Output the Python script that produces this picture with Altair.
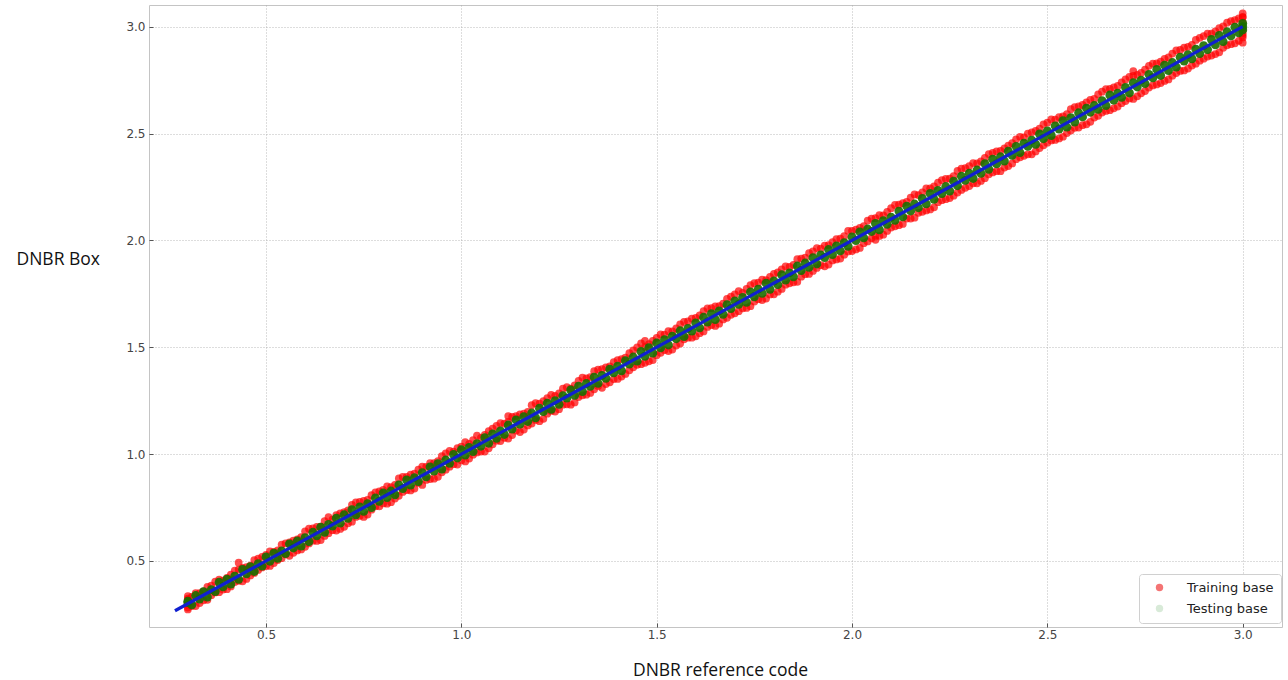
import altair as alt
import pandas as pd

# x positions of the scatter samples (DNBR reference code)
ref_x = [
    0.30, 0.31, 0.32, 0.33, 0.34, 0.35, 0.36, 0.37, 0.38, 0.39,
    0.40, 0.41, 0.42, 0.43, 0.44, 0.45, 0.46, 0.47, 0.48, 0.49,
    0.50, 0.51, 0.52, 0.53, 0.54, 0.55, 0.56, 0.57, 0.58, 0.59,
    0.60, 0.61, 0.62, 0.63, 0.64, 0.65, 0.66, 0.67, 0.68, 0.69,
    0.70, 0.71, 0.72, 0.73, 0.74, 0.75, 0.76, 0.77, 0.78, 0.79,
    0.80, 0.81, 0.82, 0.83, 0.84, 0.85, 0.86, 0.87, 0.88, 0.89,
    0.90, 0.91, 0.92, 0.93, 0.94, 0.95, 0.96, 0.97, 0.98, 0.99,
    1.00, 1.01, 1.02, 1.03, 1.04, 1.05, 1.06, 1.07, 1.08, 1.09,
    1.10, 1.11, 1.12, 1.13, 1.14, 1.15, 1.16, 1.17, 1.18, 1.19,
    1.20, 1.21, 1.22, 1.23, 1.24, 1.25, 1.26, 1.27, 1.28, 1.29,
    1.30, 1.31, 1.32, 1.33, 1.34, 1.35, 1.36, 1.37, 1.38, 1.39,
    1.40, 1.41, 1.42, 1.43, 1.44, 1.45, 1.46, 1.47, 1.48, 1.49,
    1.50, 1.51, 1.52, 1.53, 1.54, 1.55, 1.56, 1.57, 1.58, 1.59,
    1.60, 1.61, 1.62, 1.63, 1.64, 1.65, 1.66, 1.67, 1.68, 1.69,
    1.70, 1.71, 1.72, 1.73, 1.74, 1.75, 1.76, 1.77, 1.78, 1.79,
    1.80, 1.81, 1.82, 1.83, 1.84, 1.85, 1.86, 1.87, 1.88, 1.89,
    1.90, 1.91, 1.92, 1.93, 1.94, 1.95, 1.96, 1.97, 1.98, 1.99,
    2.00, 2.01, 2.02, 2.03, 2.04, 2.05, 2.06, 2.07, 2.08, 2.09,
    2.10, 2.11, 2.12, 2.13, 2.14, 2.15, 2.16, 2.17, 2.18, 2.19,
    2.20, 2.21, 2.22, 2.23, 2.24, 2.25, 2.26, 2.27, 2.28, 2.29,
    2.30, 2.31, 2.32, 2.33, 2.34, 2.35, 2.36, 2.37, 2.38, 2.39,
    2.40, 2.41, 2.42, 2.43, 2.44, 2.45, 2.46, 2.47, 2.48, 2.49,
    2.50, 2.51, 2.52, 2.53, 2.54, 2.55, 2.56, 2.57, 2.58, 2.59,
    2.60, 2.61, 2.62, 2.63, 2.64, 2.65, 2.66, 2.67, 2.68, 2.69,
    2.70, 2.71, 2.72, 2.73, 2.74, 2.75, 2.76, 2.77, 2.78, 2.79,
    2.80, 2.81, 2.82, 2.83, 2.84, 2.85, 2.86, 2.87, 2.88, 2.89,
    2.90, 2.91, 2.92, 2.93, 2.94, 2.95, 2.96, 2.97, 2.98, 2.99,
    3.00,
]

# estimated vertical offsets of training points from the 1:1 line (first pass)
train_dev = [
    .024, -.021, .030, -.027, .018, -.032, .025, -.017, .033, -.024,
    .021, -.029, .035, -.023, .028, -.034, .018, -.026, .031, -.020,
    .029, -.033, .022, -.026, .037, -.019, .027, -.032, .021, -.036,
    .039, -.028, .032, -.036, .021, -.033, .045, -.026, .035, -.040,
    .028, -.034, .043, -.024, .037, -.044, .026, -.030, .041, -.035,
    .033, -.042, .025, -.038, .046, -.027, .034, -.040, .029, -.025,
    .042, -.031, .038, -.045, .027, -.035, .044, -.029, .032, -.039,
    .035, -.044, .028, -.033, .047, -.038, .030, -.043, .039, -.027,
    .045, -.034, .031, -.041, .038, -.047, .029, -.036, .049, -.030,
    .036, -.045, .042, -.028, .033, -.040, .046, -.037, .027, -.048,
    .043, -.035, .034, -.044, .048, -.031, .038, -.042, .030, -.039,
    .040, -.047, .031, -.038, .045, -.032, .058, -.043, .035, -.050,
    .044, -.036, .039, -.048, .034, -.042, .047, -.033, .041, -.045,
    .037, -.044, .049, -.035, .043, -.050, .032, -.040, .046, -.038,
    .047, -.041, .035, -.046, .051, -.036, .042, -.049, .034, -.043,
    .043, -.050, .045, -.037, .036, -.046, .052, -.040, .039, -.047,
    .049, -.039, .042, -.051, .038, -.044, .046, -.055, .040, -.042,
    .045, -.052, .039, -.043, .053, -.040, .044, -.049, .037, -.046,
    .051, -.044, .047, -.053, .040, -.048, .055, -.041, .045, -.050,
    .044, -.055, .050, -.042, .048, -.052, .041, -.046, .056, -.044,
    .048, -.043, .040, -.052, .046, -.041, .050, -.046, .039, -.049,
    .044, -.050, .053, -.041, .042, -.047, .046, -.054, .043, -.045,
    .051, -.042, .045, -.053, .040, -.048, .054, -.043, .047, -.051,
    .046, -.055, .042, -.047, .056, -.044, .049, -.052, .043, -.048,
    .053, -.046, .050, -.056, .044, -.051, .057, -.045, .048, -.054,
    .049, -.057, .054, -.047, .051, -.055, .046, -.052, .058, -.049,
    .056, -.050, .048, -.058, .053, -.049, .059, -.052, .051, -.056,
    .045,
]

# estimated vertical offsets of training points from the 1:1 line (second pass)
train_dev2 = [
    -.027, .022, -.031, .019, -.024, .029, -.020, .033, -.026, .018,
    -.032, .026, -.019, .030, -.035, .021, -.028, .034, -.022, .029,
    -.024, .035, -.030, .020, -.027, .032, -.036, .025, -.031, .022,
    -.034, .041, -.025, .029, -.042, .037, -.030, .023, -.038, .033,
    -.040, .027, -.036, .044, -.029, .031, -.043, .038, -.025, .036,
    -.031, .039, -.045, .026, -.035, .043, -.028, .034, -.041, .037,
    -.044, .030, -.037, .028, -.046, .040, -.033, .045, -.027, .038,
    -.029, .046, -.041, .035, -.032, .026, -.048, .037, -.034, .042,
    -.039, .033, -.047, .044, -.030, .036, -.045, .028, -.037, .048,
    -.046, .038, -.031, .047, -.041, .034, -.029, .043, -.049, .032,
    -.033, .048, -.042, .030, -.037, .045, -.050, .036, -.044, .041,
    -.048, .035, -.045, .042, -.034, .049, -.039, .031, -.046, .040,
    -.037, .050, -.033, .045, -.051, .038, -.043, .049, -.035, .044,
    -.049, .039, -.046, .052, -.036, .041, -.050, .034, -.042, .047,
    -.041, .053, -.038, .043, -.048, .050, -.035, .046, -.052, .039,
    -.052, .040, -.047, .049, -.041, .036, -.054, .045, -.038, .051,
    -.043, .054, -.036, .046, -.053, .042, -.049, .038, -.047, .055,
    -.050, .041, -.055, .037, -.045, .052, -.039, .048, -.053, .043,
    -.040, .056, -.049, .044, -.038, .050, -.054, .042, -.046, .053,
    -.055, .043, -.041, .052, -.047, .039, -.051, .055, -.044, .048,
    -.046, .052, -.053, .040, -.049, .054, -.042, .047, -.056, .041,
    -.052, .045, -.040, .055, -.044, .050, -.057, .043, -.048, .053,
    -.043, .056, -.050, .047, -.055, .041, -.046, .054, -.052, .044,
    -.057, .048, -.045, .053, -.042, .058, -.051, .046, -.054, .050,
    -.048, .055, -.058, .044, -.052, .049, -.045, .057, -.050, .047,
    -.054, .046, -.049, .059, -.047, .052, -.056, .045, -.053, .058,
    -.050, .057, -.055, .048, -.060, .051, -.047, .056, -.058, .049,
    -.040,
]

# estimated vertical offsets of testing points from the 1:1 line
test_dev = [
    .012, -.015, .018, -.008, .016, -.019, .006, -.013, .020, -.011,
    .015, -.018, .009, -.016, .020, -.010, .013, -.019, .007, -.014,
    .019, -.011, .016, -.018, .007, -.015, .020, -.009, .013, -.020,
    .009, -.019, .014, -.012, .018, -.016, .011, -.007, .020, -.013,
    .016, -.010, .020, -.014, .013, -.018, .008, -.020, .015, -.011,
    .018, -.013, .007, -.020, .016, -.011, .019, -.015, .010, -.018,
    .013, -.016, .020, -.009, .015, -.020, .012, -.013, .018, -.008,
    .020, -.014, .011, -.018, .009, -.013, .017, -.019, .014, -.016,
    .008, -.018, .016, -.013, .020, -.010, .015, -.017, .012, -.020,
    .015, -.011, .018, -.020, .010, -.017, .013, -.008, .020, -.015,
    .018, -.017, .010, -.013, .020, -.019, .008, -.015, .017, -.010,
    .011, -.020, .017, -.009, .014, -.015, .020, -.012, .018, -.017,
    .020, -.013, .015, -.019, .012, -.010, .017, -.020, .008, -.014,
    .014, -.019, .020, -.012, .017, -.020, .010, -.016, .019, -.009,
    .017, -.009, .013, -.020, .019, -.014, .012, -.018, .020, -.019,
    .010, -.017, .019, -.016, .008, -.020, .020, -.011, .014, -.016,
    .019, -.020, .012, -.010, .017, -.016, .014, -.019, .009, -.018,
    .016, -.011, .020, -.018, .013, -.008, .019, -.020, .012, -.015,
    .009, -.016, .017, -.020, .020, -.012, .010, -.017, .016, -.019,
    .020, -.018, .014, -.011, .012, -.019, .017, -.014, .020, -.009,
    .014, -.020, .009, -.016, .019, -.017, .020, -.012, .011, -.019,
    .017, -.012, .020, -.019, .015, -.010, .009, -.020, .018, -.014,
    .012, -.019, .016, -.009, .020, -.020, .014, -.016, .017, -.012,
    .019, -.010, .011, -.017, .014, -.019, .020, -.014, .009, -.020,
    .016, -.020, .018, -.012, .010, -.016, .017, -.009, .020, -.018,
    .020, -.015, .012, -.019, .017, -.011, .009, -.020, .015, -.016,
    .011, -.017, .020, -.015, .019, -.020, .016, -.013, .018, -.019,
    .000,
]

# extra training points: clipped ends and a few outliers
train_extra_x = [0.30, 0.30, 0.30, 0.30, 0.43, 1.12, 1.47, 2.06, 2.72,
                 3.00, 3.00, 3.00, 3.00, 3.00, 3.00, 3.00]
train_extra_y = [0.282, 0.294, 0.318, 0.336, 0.492, 1.178, 1.530, 2.003, 2.792,
                 2.925, 2.950, 2.970, 2.990, 3.020, 3.045, 3.062]
test_extra_x = [3.00, 3.00, 0.30]
test_extra_y = [2.985, 3.015, 0.305]

# fitted 1:1 line
line_x = [0.267, 3.00]
line_y = [0.267, 3.00]

legend_labels = ["Training base", "Testing base"]
legend_colors = ["#f47474", "#d8ead8"]

train = pd.DataFrame({
    "x": ref_x + ref_x + train_extra_x,
    "y": [a + d for a, d in zip(ref_x, train_dev)]
         + [a + d for a, d in zip(ref_x, train_dev2)]
         + train_extra_y,
})
test = pd.DataFrame({
    "x": ref_x + test_extra_x,
    "y": [a + d for a, d in zip(ref_x, test_dev)] + test_extra_y,
})
line = pd.DataFrame({"x": line_x, "y": line_y})
leg = pd.DataFrame({"set": legend_labels})

xscale = alt.Scale(domain=[0.2005, 3.1006], nice=False, zero=False)
yscale = alt.Scale(domain=[0.191, 3.1015], nice=False, zero=False)
ticks = [0.5, 1.0, 1.5, 2.0, 2.5, 3.0]

common_axis = dict(
    values=ticks, format=".1f", domain=False, grid=True,
    gridColor="#a8a8a8", gridDash=[1, 2], gridWidth=0.8,
    offset=-4, tickSize=4, tickColor="#555555", tickWidth=1,
    labelFont="DejaVu Sans", labelFontSize=12, labelColor="#444444",
    titleFont="Open Sans", titleFontSize=17.5, titleFontWeight="normal",
    titleColor="#111111",
)

x_axis = alt.Axis(title="DNBR reference code", labelPadding=2,
                  titleX=571, titleY=52, titleAlign="center",
                  titleBaseline="alphabetic", **common_axis)
y_axis = alt.Axis(title="DNBR Box", labelPadding=4, titleAngle=0,
                  titleX=-137, titleY=259, titleAlign="left",
                  titleBaseline="alphabetic", **common_axis)

red = alt.Chart(train).mark_circle(color="#ff0000", opacity=0.7, size=60).encode(
    x=alt.X("x:Q", scale=xscale, axis=x_axis),
    y=alt.Y("y:Q", scale=yscale, axis=y_axis),
)
green = alt.Chart(test).mark_circle(color="#1a6e00", opacity=0.9, size=80).encode(
    x="x:Q", y="y:Q",
)
blue = alt.Chart(line).mark_line(color="#1020d0", strokeWidth=3.2).encode(
    x="x:Q", y="y:Q",
)
legend_layer = alt.Chart(leg).mark_circle(opacity=1, clip=True).encode(
    x=alt.value(-60), y=alt.value(-60),
    color=alt.Color(
        "set:N",
        scale=alt.Scale(domain=legend_labels, range=legend_colors),
        legend=alt.Legend(
            title=None, orient="none", legendX=990, legendY=569,
            padding=7, symbolOffset=7, symbolSize=55, symbolType="circle",
            symbolOpacity=1, symbolStrokeWidth=0,
            labelFont="DejaVu Sans", labelFontSize=13, labelColor="#222222",
            labelOffset=21, rowPadding=7,
            strokeColor="#d0d0d0", fillColor="#ffffff", cornerRadius=3,
        ),
    ),
)

chart = alt.layer(red, green, blue, legend_layer).properties(
    width=1133, height=622,
    autosize=alt.AutoSizeParams(type="none"),
    padding={"left": 149, "top": 5, "right": 6, "bottom": 53},
    background="#ffffff",
).configure_view(stroke="#c4c4c4", strokeWidth=1, fill="#ffffff")

chart.save("out.html", embed_options={"renderer": "svg", "actions": False})
